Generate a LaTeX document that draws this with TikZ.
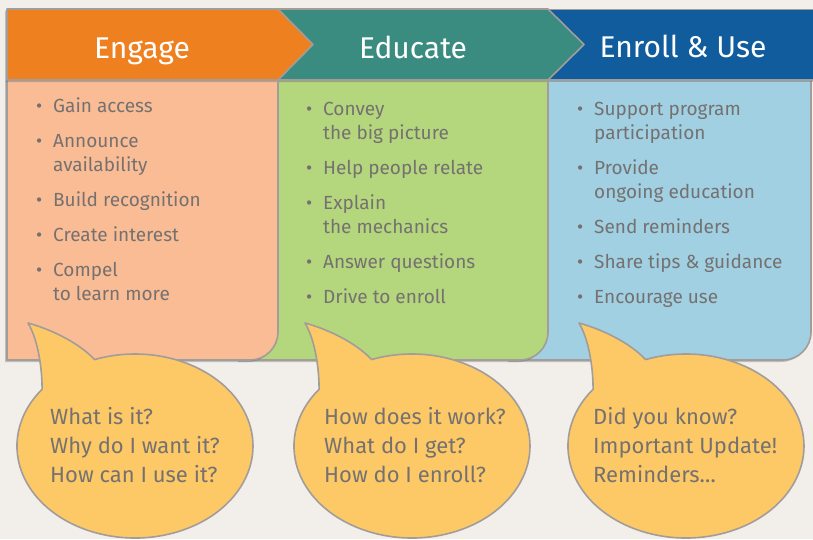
\documentclass[tikz,border=0pt]{standalone}
\usepackage{fontspec}
\setmainfont{Fira Sans}
\usetikzlibrary{shadows}
\definecolor{bgc}{HTML}{F2EEE9}
\definecolor{orangeh}{HTML}{EF8020}
\definecolor{tealh}{HTML}{3A8C80}
\definecolor{blueh}{HTML}{115C9D}
\definecolor{peachb}{HTML}{FABC94}
\definecolor{greenb}{HTML}{B4D67C}
\definecolor{blueb}{HTML}{A0D0E2}
\definecolor{bubblec}{HTML}{FDC966}
\definecolor{edgec}{HTML}{A29C9A}
\definecolor{textc}{HTML}{757171}
\begin{document}
\begin{tikzpicture}[x=1pt,y=1pt,
  panel/.style={draw=edgec, line width=1.6pt, line join=round,
    drop shadow={shadow xshift=-2pt, shadow yshift=-2pt, opacity=0.3, fill=black!70}},
  headtext/.style={text=white, font=\fontsize{30}{36}\selectfont, inner sep=0pt, anchor=base},
  listtext/.style={text=textc, font=\fontsize{19}{24}\selectfont, inner sep=0pt, anchor=base west},
  bubbletext/.style={text=textc, font=\fontsize{22}{29}\selectfont, inner sep=0pt, anchor=base west},
  bubble/.pic={
    \path[draw=edgec, line width=1.6pt, line join=round, fill=bubblec]
      (-40.4,86.45) arc[start angle=110, end angle=-218.1, x radius=118, y radius=92]
      .. controls (-93,82) and (-98,108) .. (-107,123)
      .. controls (-85,117) and (-57,104) .. (-40.4,86.45) -- cycle;
  }]
\useasboundingbox (0,0) rectangle (813,-539);
\fill[bgc] (0,0) rectangle (813,-539);

% Enroll & Use panel
\path[panel, fill=blueb] (510,-80) -- (811,-80) -- (811,-332)
  arc[start angle=0, end angle=-90, radius=28] -- (510,-360) -- cycle;
\path[panel, fill=blueh] (540,-9.5) -- (816,-9.5) -- (816,-80) -- (540,-80) -- cycle;

% Educate panel
\path[panel, fill=greenb] (240,-80) -- (548,-80) -- (548,-332)
  arc[start angle=0, end angle=-90, radius=28] -- (240,-360) -- cycle;
\path[panel, fill=tealh] (270,-9) -- (548,-9) -- (584,-44.5) -- (548,-80) -- (270,-80) -- cycle;

% Engage panel
\path[panel, fill=peachb] (7,-80) -- (278,-80) -- (278,-332)
  arc[start angle=0, end angle=-90, radius=28] -- (7,-360) -- cycle;
\path[panel, fill=orangeh] (7,-9) -- (278,-9) -- (313,-44.5) -- (278,-80) -- (7,-80) -- cycle;

% headers
\node[headtext] (h1) at (142,-58) {Engage};
\node[headtext] (h2) at (413,-58) {Educate};
\node[headtext] (h3) at (683,-57) {Enroll \& Use};

% lists
\node[listtext] (l1) at (36,-112) {\begin{tabular}[t]{@{}p{17pt}@{}l@{}}
•& Gain access\\[11pt]
•& Announce\\
 & availability\\[11pt]
•& Build recognition\\[11pt]
•& Create interest\\[11pt]
•& Compel\\
 & to learn more
\end{tabular}};
\node[listtext] (l2) at (306,-115) {\begin{tabular}[t]{@{}p{17pt}@{}l@{}}
•& Convey\\
 & the big picture\\[11pt]
•& Help people relate\\[11pt]
•& Explain\\
 & the mechanics\\[11pt]
•& Answer questions\\[11pt]
•& Drive to enroll
\end{tabular}};
\node[listtext] (l3) at (577,-115) {\begin{tabular}[t]{@{}p{17pt}@{}l@{}}
•& Support program\\
 & participation\\[11pt]
•& Provide\\
 & ongoing education\\[11pt]
•& Send reminders\\[11pt]
•& Share tips \& guidance\\[11pt]
•& Encourage use
\end{tabular}};

% bubbles
\pic at (135,-446) {bubble};
\pic at (412,-446) {bubble};
\pic at (686,-446) {bubble};
\node[bubbletext] (b1) at (50,-424) {\begin{tabular}[t]{@{}l@{}}What is it?\\ Why do I want it?\\ How can I use it?\end{tabular}};
\node[bubbletext] (b2) at (324,-424) {\begin{tabular}[t]{@{}l@{}}How does it work?\\ What do I get?\\ How do I enroll?\end{tabular}};
\node[bubbletext] (b3) at (593,-424) {\begin{tabular}[t]{@{}l@{}}Did you know?\\ Important Update!\\ Reminders…\end{tabular}};
\end{tikzpicture}
\end{document}
